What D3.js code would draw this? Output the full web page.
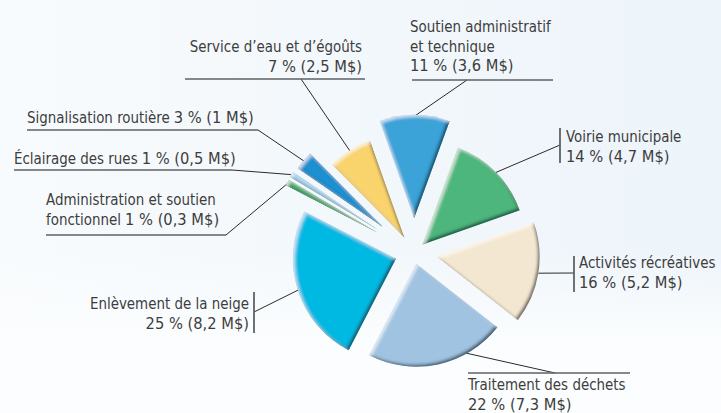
<!DOCTYPE html>
<html>
<head>
<meta charset="utf-8">
<script src="https://cdn.jsdelivr.net/npm/d3@7"></script>
<style>
  html, body { margin: 0; padding: 0; background: #fbfdfe; }
  svg { display: block; }
  .lbl { font-family: "Liberation Sans Narrow", "DejaVu Sans Condensed", "Arial Narrow", sans-serif; font-size: 16.5px; fill: #3d3d3d; }
</style>
</head>
<body>
<script>
// chart data
var categories = ["Soutien administratif et technique", "Voirie municipale", "Activités récréatives",
  "Traitement des déchets", "Enlèvement de la neige", "Administration et soutien fonctionnel",
  "Éclairage des rues", "Signalisation routière", "Service d’eau et d’égoûts"];
var percents = [11, 14, 16, 22, 25, 1, 1, 3, 7];
var amounts = ["3,6", "4,7", "5,2", "7,3", "8,2", "0,3", "0,5", "1", "2,5"];

// styling
var colors = ["#3aa3d8", "#4db67c", "#f4e7d1", "#9fc3e1", "#00b9e2", "#3bab68", "#a9d5ef", "#1f90d0", "#f9d36c"];
var explode = [35, 12, 23, 11, 19, 42, 43, 41, 18];
var leaderAt = [0.5, 0.5, 0.5, 0.29, 0.5, 0.5, 0.5, 0.5, 0.5];
var squeezeName = 0.905, squeezeValue = 0.99;

// label layout: words per line for the name, value inline or on its own line
var layout = [
  {x: 410, y: 32, anchor: "start", wrap: [2, 2], inline: false, rule: [412, 553, 80], from: [467, 80]},
  {x: 566, y: 142, anchor: "start", wrap: [2], inline: false, bar: [560, 128, 163], from: [560, 145]},
  {x: 579, y: 268, anchor: "start", wrap: [2], inline: false, bar: [574, 256, 292], from: [574, 273]},
  {x: 468, y: 390, anchor: "start", wrap: [3], inline: false, rule: [468, 630, 373], from: [555, 373]},
  {x: 249, y: 309, anchor: "end", wrap: [4], inline: false, bar: [254, 292, 333], from: [254, 312]},
  {x: 46, y: 205, anchor: "start", wrap: [3, 1], inline: true, rule: [46, 226, 235], from: [226, 235]},
  {x: 14, y: 164, anchor: "start", wrap: [3], inline: true, rule: [14, 232, 170], from: [232, 170]},
  {x: 27, y: 123, anchor: "start", wrap: [2], inline: true, rule: [27, 258, 130], from: [258, 130]},
  {x: 362, y: 52, anchor: "end", wrap: [4], inline: false, rule: [185, 365, 79], from: [301, 79]}
];

var width = 721, height = 413;
var cx = 414, cy = 253, radius = 103;
var lineH = 19.5;

var svg = d3.select("body").append("svg")
  .attr("width", width)
  .attr("height", height);

var defs = svg.append("defs");
var bg = defs.append("linearGradient").attr("id", "bg").attr("x1", 0).attr("y1", 0).attr("x2", 1).attr("y2", 0);
bg.append("stop").attr("offset", "0%").attr("stop-color", "#f8fbfd");
bg.append("stop").attr("offset", "100%").attr("stop-color", "#edf4fa");
var fade = defs.append("linearGradient").attr("id", "fade").attr("x1", 0).attr("y1", 0).attr("x2", 0).attr("y2", 1);
fade.append("stop").attr("offset", "0%").attr("stop-color", "#fbfdfe").attr("stop-opacity", 0);
fade.append("stop").attr("offset", "100%").attr("stop-color", "#fbfdfe").attr("stop-opacity", 1);

// bevel: dark rim on lower right edges, light rim on upper left edges
var f = defs.append("filter").attr("id", "bevel")
  .attr("x", "-10%").attr("y", "-10%").attr("width", "120%").attr("height", "120%");
f.append("feGaussianBlur").attr("in", "SourceAlpha").attr("stdDeviation", 1.8).attr("result", "b");
f.append("feOffset").attr("in", "b").attr("dx", -2.5).attr("dy", -2).attr("result", "bUL");
f.append("feComposite").attr("in", "SourceAlpha").attr("in2", "bUL").attr("operator", "arithmetic")
  .attr("k2", 1).attr("k3", -1).attr("result", "darkMask");
f.append("feFlood").attr("flood-color", "#17303d").attr("flood-opacity", 0.85);
f.append("feComposite").attr("in2", "darkMask").attr("operator", "in").attr("result", "dark");
f.append("feOffset").attr("in", "b").attr("dx", 2).attr("dy", 2).attr("result", "bDR");
f.append("feComposite").attr("in", "SourceAlpha").attr("in2", "bDR").attr("operator", "arithmetic")
  .attr("k2", 1).attr("k3", -1).attr("result", "lightMask");
f.append("feFlood").attr("flood-color", "#ffffff").attr("flood-opacity", 0.6);
f.append("feComposite").attr("in2", "lightMask").attr("operator", "in").attr("result", "light");
var m = f.append("feMerge");
m.append("feMergeNode").attr("in", "SourceGraphic");
m.append("feMergeNode").attr("in", "dark");
m.append("feMergeNode").attr("in", "light");

// background
svg.append("rect").attr("width", width).attr("height", height).attr("fill", "url(#bg)");
svg.append("rect").attr("y", 250).attr("width", width).attr("height", 90).attr("fill", "url(#fade)");
svg.append("rect").attr("y", 340).attr("width", width).attr("height", height - 340).attr("fill", "#fbfdfe");

var start = -19.5 * Math.PI / 180;
var pie = d3.pie().sort(null).value(function(d) { return d; })
  .startAngle(start).endAngle(start + 2 * Math.PI);
var arcs = pie(percents);
var arc = d3.arc().innerRadius(0).outerRadius(radius);

function shift(d, i) {
  var a = (d.startAngle + d.endAngle) / 2;
  return [cx + explode[i] * Math.sin(a), cy - explode[i] * Math.cos(a)];
}

var g = svg.append("g");

// leader lines
layout.forEach(function(L, i) {
  var d = arcs[i];
  var o = shift(d, i);
  var a = d.startAngle + (d.endAngle - d.startAngle) * leaderAt[i];
  var px = o[0] + (radius - 1) * Math.sin(a), py = o[1] - (radius - 1) * Math.cos(a);
  g.append("line")
    .attr("x1", L.from[0]).attr("y1", L.from[1])
    .attr("x2", px).attr("y2", py)
    .attr("stroke", "#2a2a2a").attr("stroke-width", 1);
  if (L.rule) {
    g.append("line")
      .attr("x1", L.rule[0]).attr("x2", L.rule[1])
      .attr("y1", L.rule[2]).attr("y2", L.rule[2])
      .attr("stroke", "#5e6266").attr("stroke-width", 1.5);
  }
  if (L.bar) {
    g.append("line")
      .attr("x1", L.bar[0]).attr("x2", L.bar[0])
      .attr("y1", L.bar[1]).attr("y2", L.bar[2])
      .attr("stroke", "#5e6266").attr("stroke-width", 1.8);
  }
});

// slices
g.selectAll("path.slice")
  .data(arcs)
  .enter()
  .append("path")
  .attr("class", "slice")
  .attr("d", arc)
  .attr("fill", function(d, i) { return colors[i]; })
  .attr("filter", "url(#bevel)")
  .attr("transform", function(d, i) { return "translate(" + shift(d, i) + ")"; });

// labels: text is scaled horizontally to look like the condensed face of the original
function putText(s, x, y, anchor, k) {
  var t = g.append("text")
    .attr("class", "lbl")
    .attr("text-anchor", anchor)
    .attr("transform", "translate(" + x + "," + y + ") scale(" + k + ",1)")
    .text(s);
  return t.node().getComputedTextLength() * k;
}

layout.forEach(function(L, i) {
  var words = categories[i].split(" ");
  var value = percents[i] + " % (" + amounts[i] + " M$)";
  var lines = [], k = 0;
  L.wrap.forEach(function(n) {
    lines.push(words.slice(k, k + n).join(" "));
    k += n;
  });
  lines.forEach(function(s, j) {
    var y = L.y + j * lineH;
    var w = putText(s, L.x, y, L.anchor, squeezeName);
    if (L.inline && j === lines.length - 1) {
      putText(value, L.x + w + 4, y, "start", squeezeValue);
    }
  });
  if (!L.inline) putText(value, L.x, L.y + lines.length * lineH, L.anchor, squeezeValue);
});
</script>
</body>
</html>
